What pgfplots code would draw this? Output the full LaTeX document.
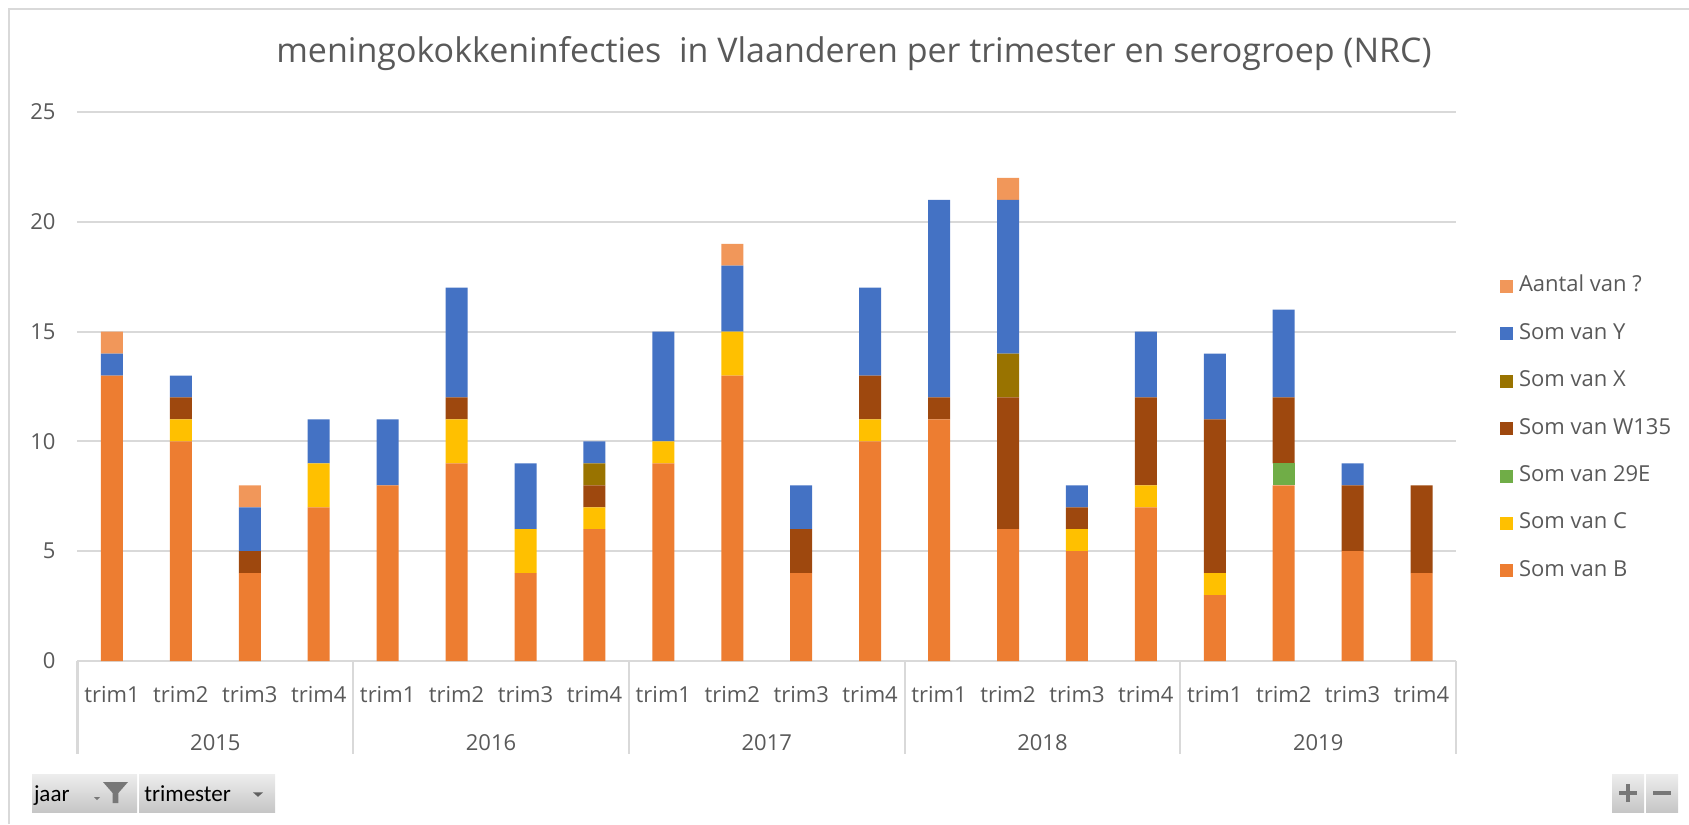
\documentclass[border=0pt]{standalone}
\usepackage{pgfplots}
\pgfplotsset{compat=1.18}
\usepackage{pgfplotstable}
\usepackage{fontspec}
\setmainfont{Open Sans}
\newfontfamily\uifont{Carlito}
\definecolor{cB}{HTML}{ED7D31}
\definecolor{cC}{HTML}{FFC000}
\definecolor{cE}{HTML}{70AD47}
\definecolor{cW}{HTML}{9E480E}
\definecolor{cX}{HTML}{997300}
\definecolor{cY}{HTML}{4472C4}
\definecolor{cQ}{HTML}{F1975A}
\definecolor{gridc}{HTML}{D9D9D9}
\definecolor{textc}{HTML}{595959}
\definecolor{btntop}{HTML}{EDEDED}
\definecolor{btnbot}{HTML}{C6C6C6}
\definecolor{icon}{HTML}{777777}

\pgfplotstableread{
x  B  C  E  W  X  Y  Q
0  13 0  0  0  0  1  1
1  10 1  0  1  0  1  0
2  4  0  0  1  0  2  1
3  7  2  0  0  0  2  0
4  8  0  0  0  0  3  0
5  9  2  0  1  0  5  0
6  4  2  0  0  0  3  0
7  6  1  0  1  1  1  0
8  9  1  0  0  0  5  0
9  13 2  0  0  0  3  1
10 4  0  0  2  0  2  0
11 10 1  0  2  0  4  0
12 11 0  0  1  0  9  0
13 6  0  0  6  2  7  1
14 5  1  0  1  0  1  0
15 7  1  0  4  0  3  0
16 3  1  0  7  0  3  0
17 8  0  1  3  0  4  0
18 5  0  0  3  0  1  0
19 4  0  0  4  0  0  0
}\datatable

\begin{document}
\begin{tikzpicture}
\path[use as bounding box] (0,0) rectangle (844.5pt,412pt);
\draw[gridc, line width=1pt] (4.5pt,0) -- (4.5pt,407.5pt) -- (844.5pt,407.5pt);
\node[font=\fontsize{17}{20}\selectfont, text=textc] at (427pt,385pt)
  {meningokokkeninfecties\ \ in Vlaanderen per trimester en serogroep (NRC)};
\begin{axis}[
  at={(38.75pt,81.5pt)}, anchor=south west,
  scale only axis, width=689.25pt, height=274.5pt,
  xmin=-0.5, xmax=19.5, ymin=0, ymax=25,
  clip=false,
  ybar stacked, bar width=11pt,
  axis line style={draw=none},
  major tick length=0pt,
  ymajorgrids, grid style={gridc, line width=1pt},
  ytick={0,5,...,25},
  /pgf/number format/assume math mode=true,
  yticklabel style={font=\fontsize{11}{13}\selectfont, text=textc, xshift=-7.5pt},
  xtick={0,...,19},
  xticklabels={trim1,trim2,trim3,trim4,trim1,trim2,trim3,trim4,trim1,trim2,trim3,trim4,trim1,trim2,trim3,trim4,trim1,trim2,trim3,trim4},
  xticklabel style={font=\fontsize{11}{13}\selectfont, text=textc, anchor=center, yshift=-17pt},
  reverse legend,
  legend image code/.code={\fill[#1] (0pt,-3.25pt) rectangle (6.5pt,3.25pt);},
  legend style={at={(1.0319,0.7013)}, anchor=north west, draw=none, fill=none,
    inner sep=0pt, outer sep=0pt, font=\fontsize{11}{13}\selectfont, text=textc,
    row sep=13.2pt, column sep=3pt,
    nodes={text height=8pt, text depth=2.5pt, inner sep=0pt}},
  legend cell align=left,
]
\addplot[fill=cB, draw=none] table[x=x, y=B] {\datatable};
\addplot[fill=cC, draw=none] table[x=x, y=C] {\datatable};
\addplot[fill=cE, draw=none] table[x=x, y=E] {\datatable};
\addplot[fill=cW, draw=none] table[x=x, y=W] {\datatable};
\addplot[fill=cX, draw=none] table[x=x, y=X] {\datatable};
\addplot[fill=cY, draw=none] table[x=x, y=Y] {\datatable};
\addplot[fill=cQ, draw=none] table[x=x, y=Q] {\datatable};
\legend{Som van B, Som van C, Som van 29E, Som van W135, Som van X, Som van Y, Aantal van ?}
\pgfplotsinvokeforeach{-0.5,3.5,7.5,11.5,15.5,19.5}{
  \draw[gridc, line width=1pt] (axis cs:#1,0) -- ([yshift=-46.5pt]axis cs:#1,0);
}
\node[font=\fontsize{11}{13}\selectfont, text=textc] at ([yshift=-41pt]axis cs:1.5,0) {2015};
\node[font=\fontsize{11}{13}\selectfont, text=textc] at ([yshift=-41pt]axis cs:5.5,0) {2016};
\node[font=\fontsize{11}{13}\selectfont, text=textc] at ([yshift=-41pt]axis cs:9.5,0) {2017};
\node[font=\fontsize{11}{13}\selectfont, text=textc] at ([yshift=-41pt]axis cs:13.5,0) {2018};
\node[font=\fontsize{11}{13}\selectfont, text=textc] at ([yshift=-41pt]axis cs:17.5,0) {2019};
\end{axis}
% pivot field buttons
\shade[top color=btntop, bottom color=btnbot] (16pt,6pt) rectangle (68.5pt,25pt);
\shade[top color=btntop, bottom color=btnbot] (69.5pt,6pt) rectangle (137.5pt,25pt);
\node[font=\uifont\fontsize{11.5}{13}\selectfont, anchor=base west, inner sep=0pt] at (16.8pt,11.5pt) {jaar};
\node[font=\uifont\fontsize{11.5}{13}\selectfont, anchor=base west, inner sep=0pt] at (72pt,11.5pt) {trimester};
\fill[icon] (47pt,13.5pt) -- (50pt,13.5pt) -- (48.5pt,12pt) -- cycle;
\fill[icon] (51.5pt,21pt) -- (64pt,21pt) -- (59.2pt,15.5pt) -- (59.2pt,10.5pt) -- (56.3pt,10.5pt) -- (56.3pt,15.5pt) -- cycle;
\fill[icon!80!black] (126.5pt,15.8pt) -- (131.5pt,15.8pt) -- (129pt,13.6pt) -- cycle;
% zoom buttons
\shade[top color=btntop, bottom color=btnbot] (806pt,6pt) rectangle (822pt,25pt);
\shade[top color=btntop, bottom color=btnbot] (823pt,6pt) rectangle (839pt,25pt);
\draw[icon, line width=1.6pt] (809.5pt,15.5pt) -- (818.5pt,15.5pt) (814pt,11pt) -- (814pt,20pt);
\draw[icon, line width=1.6pt] (826.5pt,15.5pt) -- (835.5pt,15.5pt);
\end{tikzpicture}
\end{document}
